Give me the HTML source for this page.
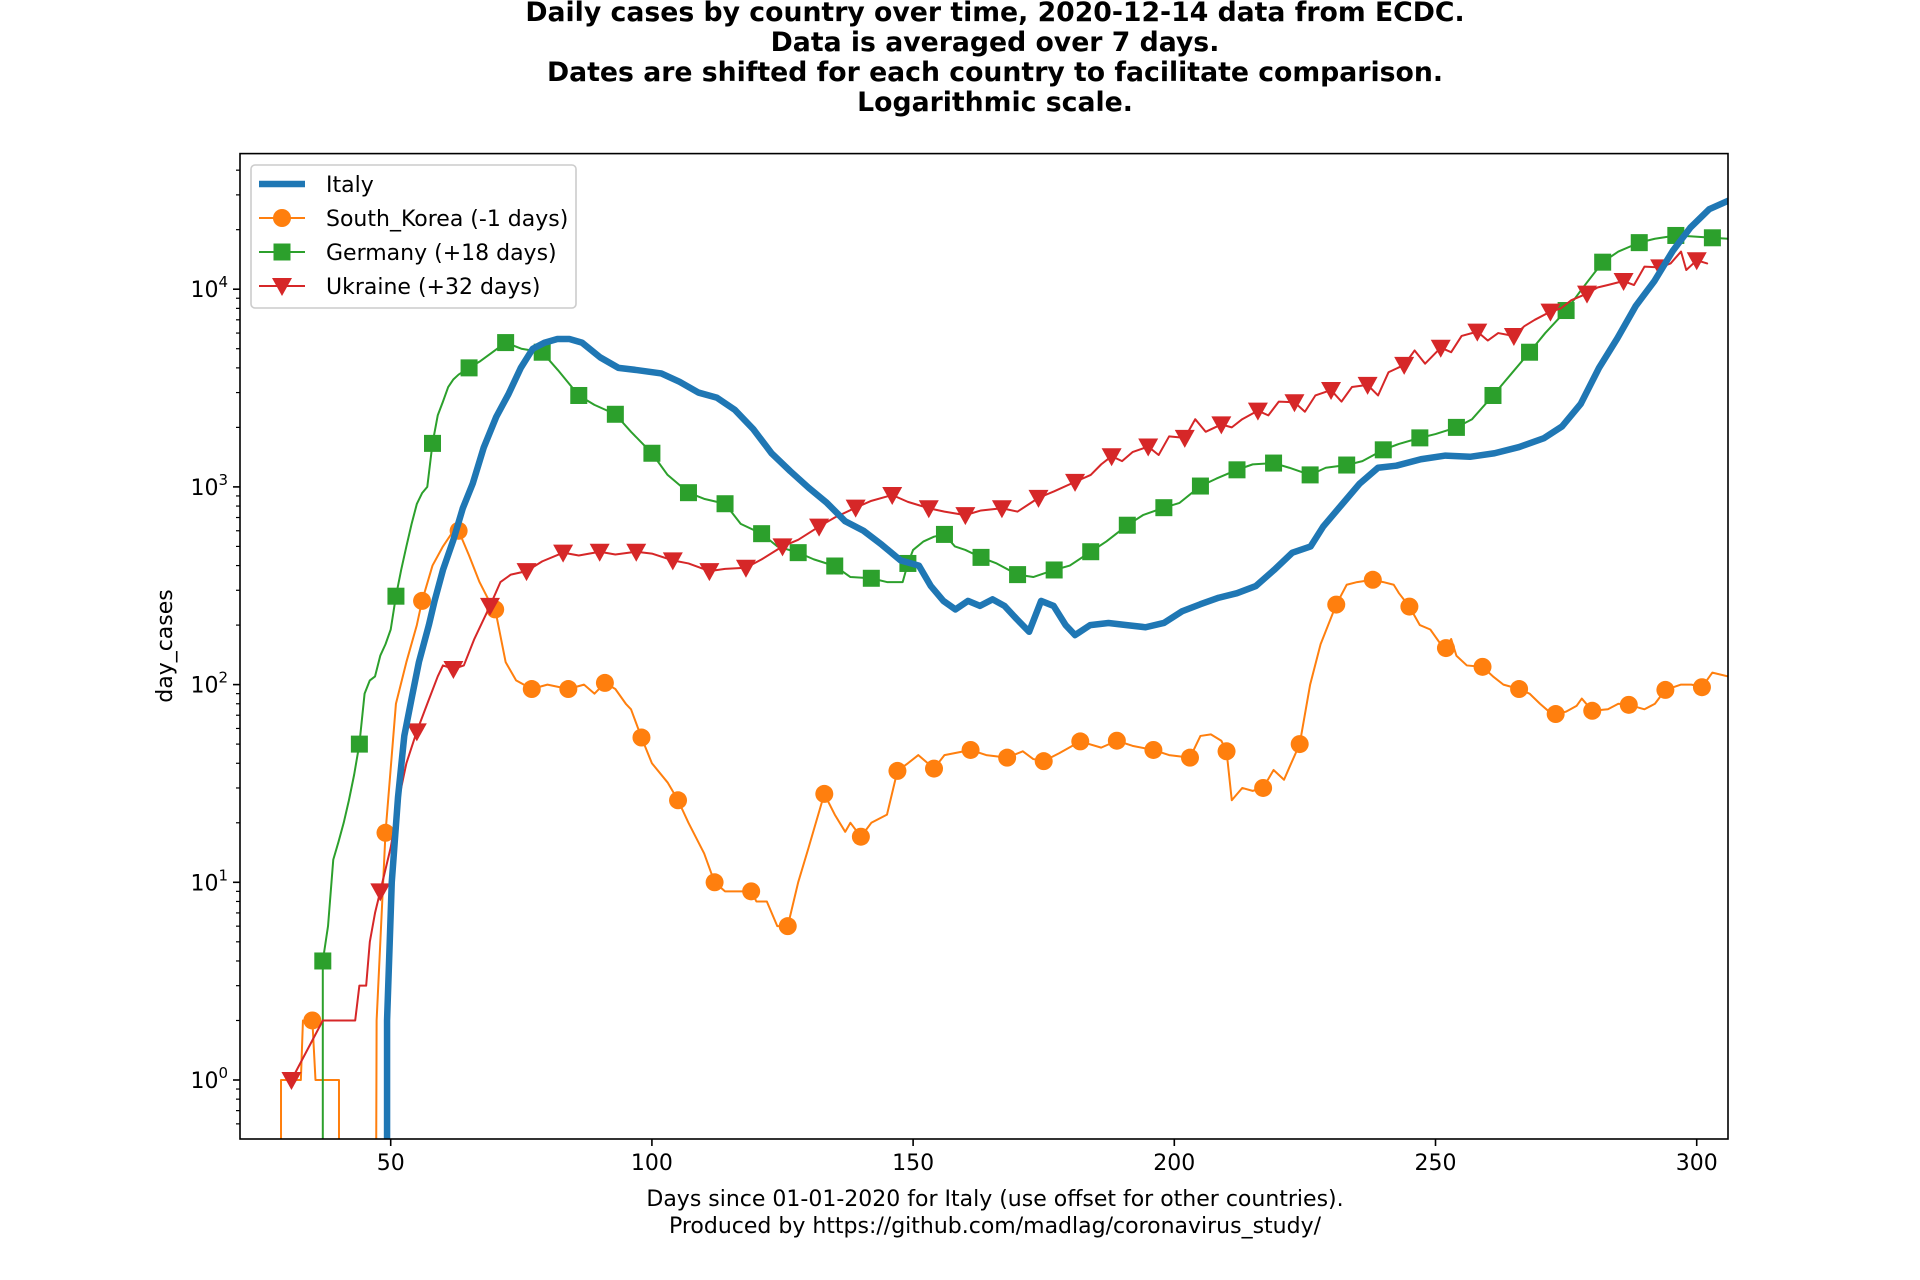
<!DOCTYPE html>
<html><head><meta charset="utf-8"><style>
html,body{margin:0;padding:0;background:#fff;}
svg{display:block;font-family:"DejaVu Sans","Liberation Sans",sans-serif;}
</style></head><body>
<svg id="chart" width="1920" height="1280" viewBox="0 0 1920 1280" xmlns="http://www.w3.org/2000/svg">
<rect width="1920" height="1280" fill="#fff"/>
<g font-weight="bold" font-size="26.7" text-anchor="middle" fill="#000">
<text x="995" y="21">Daily cases by country over time, 2020-12-14 data from ECDC.</text>
<text x="995" y="51">Data is averaged over 7 days.</text>
<text x="995" y="81">Dates are shifted for each country to facilitate comparison.</text>
<text x="995" y="111">Logarithmic scale.</text>
</g>
<defs><clipPath id="plotclip"><rect x="240" y="153.6" width="1488" height="985.4"/></clipPath></defs>
<g id="series" clip-path="url(#plotclip)"></g>
<g id="axes"></g>
<text transform="translate(172,646) rotate(-90)" font-size="22" text-anchor="middle">day_cases</text>
<g font-size="22" text-anchor="middle">
<text x="995" y="1206">Days since 01-01-2020 for Italy (use offset for other countries).</text>
<text x="995" y="1233">Produced by https://github.com/madlag/coronavirus_study/</text>
</g>
<g id="legend"></g>
</svg>
<script>
const xTicks=[50,100,150,200,250,300];
const yDecades=[0,1,2,3,4];
const itDays=[49.3,49.3,50.2,51.4,52.6,54,55.4,57.3,58.4,60,62,63.8,65.7,67.8,70.2,72.5,74.9,77.2,79.5,81.9,84.2,86.6,90.1,93.6,97.1,101.8,105.3,108.9,112.4,115.9,119.4,122.9,126.5,130,133.5,137,140.5,144,147.6,151.1,153.4,155.8,158.1,160.5,162.8,165.2,167.5,169.8,172.2,174.5,176.9,179.2,181,183.9,187.4,190.9,194.5,198,201.5,205,208.5,212,215.6,219.1,222.6,226.1,228.5,232,235.5,239,242.5,247.2,251.9,256.6,261.3,266,270.7,274.2,277.8,281.3,284.8,288.3,291.9,295.4,298.8,302.4,306];
const itVals=[0.3,2,10,27,55,85,130,200,265,380,540,780,1040,1580,2260,2930,4000,5000,5370,5600,5600,5370,4520,4000,3900,3750,3400,3000,2830,2450,1960,1480,1200,990,830,670,600,510,425,400,315,265,240,265,250,270,250,215,185,265,250,200,178,200,205,200,195,205,235,255,275,290,315,380,465,500,630,810,1040,1250,1280,1380,1440,1420,1480,1590,1760,2020,2630,4000,5640,8200,11000,15600,20500,25400,28000];
const skDays=[29,29,32.8,33.2,35,35.6,40.1,40.1,47.2,47.3,49,51,53,55,56,58,60,62,63,65,67,69,70,72,74,77,80,84,87,89,91,93,95,96,98,100,103,105,107,110,112,114,117,119,120,122,124,126,128,130,133,135,137,138,140,142,145,147,149,151,154,156,161,164,168,171,173,175,178,182,186,189,192,196,199,203,205,207,209,210,211,213,215,217,219,221,222,224,226,228,231,233,235,238,240,242,243,245,247,249,251,252,253,254,256,259,261,263,266,268,270,272,273,275,277,278,280,283,285,287,290,292,294,297,299,301,303,306];
const skVals=[0.3,1,1,2,2,1,1,0.3,0.3,2,17.8,80,130,200,265,400,500,600,600,450,330,260,240,130,105,95,100,95,100,90,102,95,80,75,54,40,32,26,20,14,10,9,9,9,8,8,6,6,10,15,28,22,18,20,17,20,22,36.6,40,44,37.6,44,46.7,44,42.7,46,42,41,45,51.6,48,52,49,46.7,44,42.7,55,56,52,46,26,30,29,30,37,33,38,50,100,160,254,320,330,339,330,320,290,248,200,190,160,153,170,140,125,123,110,100,95,90,80,72,71,73,78,85,73.7,75,80,79,75,80,94,100,100,97,115,110];
const deDays=[37,37,38,39,40,41,42,43,44,45,46,47,48,49,50,51,52,53,54,55,56,57,58,59,60,61,62,63,65,67,69,72,75,79,82,86,89,93,96,100,103,107,110,114,117,121,124,128,131,135,138,142,145,148,149,150,152,154,156,158,160,163,166,170,173,177,180,184,187,191,194,198,201,205,208,212,215,219,222,226,229,233,236,240,243,247,250,254,257,261,264,268,271,275,278,282,285,289,292,296,299,303,306];
const deVals=[0.3,4,6,13,16,20,26,35,50,90,105,110,140,160,190,280,380,500,650,820,930,1000,1660,2300,2700,3200,3500,3700,4000,4300,4700,5370,5000,4800,3900,2900,2600,2330,1900,1480,1150,935,870,822,650,580,500,465,430,398,350,345,330,330,410,480,530,560,575,500,480,440,410,360,350,380,400,470,530,640,720,785,830,1010,1100,1220,1300,1320,1250,1150,1250,1290,1350,1540,1650,1770,1850,2000,2200,2900,3600,4800,6000,7800,10000,13700,15500,17200,18000,18700,18500,18200,18000];
const uaDays=[31,37,40,43.2,44,45.3,46,47,48,50,52,53,55,57,59,60,62,64,66,69,71,73,76,79,83,86,90,93,97,100,104,107,111,114,118,121,125,128,132,135,139,142,146,149,153,156,160,163,167,170,174,177,181,184,186,188,190,192,195,197,199,202,204,206,209,211,213,216,218,220,223,225,227,230,232,234,237,239,241,244,246,248,251,253,255,258,260,262,265,267,269,272,274,276,279,281,283,286,288,290,293,295,297,298,300,302];
const uaVals=[1,2,2,2,3,3,5,7,9,15,30,40,58,80,110,125,120,125,170,250,330,360,375,420,465,450,470,455,470,460,425,410,375,385,390,430,500,540,630,700,785,850,910,840,780,750,720,760,780,750,880,950,1060,1150,1300,1430,1350,1500,1600,1450,1800,1770,2200,1900,2070,2000,2200,2430,2300,2700,2680,2400,2900,3090,2700,3200,3280,2900,3800,4140,4900,4200,5060,4800,5800,6100,5500,6000,5800,6500,7000,7700,8000,8800,9500,10200,10500,11000,10500,13000,12900,13500,15500,12500,14000,13500];
const uaExtraMarkDays=[31];
const legendLabels=["Italy","South_Korea (-1 days)","Germany (+18 days)","Ukraine (+32 days)"];

const NS="http://www.w3.org/2000/svg";
const L=240,R=1728,T=153.6,B=1139;
const xS=d=>L+(d-21.15)*5.224;
const yS=v=>1080-Math.log10(v)*197.7;
function mk(tag,attrs,parent){const e=document.createElementNS(NS,tag);for(const k in attrs)e.setAttribute(k,attrs[k]);parent.appendChild(e);return e;}
const sg=document.getElementById('series');
const ax=document.getElementById('axes');

function line(days,vals,color,w,name){
  const d=days.map((x,i)=>(i?'L':'M')+xS(x).toFixed(2)+','+yS(vals[i]).toFixed(2)).join('');
  const p=mk('path',{d:d,fill:'none',stroke:color,'stroke-width':w,'stroke-linejoin':'round','stroke-linecap':'round'},sg);
  
  
}
function marker(shape,cx,cy,color,parent){
  let e;
  if(shape==='o'){e=mk('circle',{cx:cx,cy:cy,r:9,fill:color},parent);}
  else if(shape==='s'){e=mk('rect',{x:cx-8.5,y:cy-8.5,width:17,height:17,fill:color},parent);}
  else{e=mk('path',{d:`M${cx-10},${cy-8}L${cx+10},${cy-8}L${cx},${cy+10}Z`,fill:color},parent);}
  return e;
}
function markers(days,vals,color,shape,test,name){
  const seen=new Set();
  for(let i=days.length-1;i>=0;i--){
    const d=days[i];
    if(Number.isInteger(d)&&test(d)&&!seen.has(d)){
      seen.add(d);
      const e=marker(shape,xS(d),yS(vals[i]),color,sg);
      
      
    }
  }
}
line(skDays,skVals,'#ff7f0e',2,'south-korea-line');
markers(skDays,skVals,'#ff7f0e','o',d=>d%7===0,'south-korea-marker');
line(deDays,deVals,'#2ca02c',2,'germany-line');
markers(deDays,deVals,'#2ca02c','s',d=>d%7===2,'germany-marker');
line(uaDays,uaVals,'#d62728',2,'ukraine-line');
markers(uaDays,uaVals,'#d62728','v',d=>d%7===6||uaExtraMarkDays.includes(d),'ukraine-marker');
line(itDays,itVals,'#1f77b4',6.5,'italy-line');

const fr=mk('rect',{x:L,y:T,width:R-L,height:B-T,fill:'none',stroke:'#000','stroke-width':1.6},ax);


xTicks.forEach(t=>{
  const x=xS(t);
  const tk=mk('line',{x1:x,x2:x,y1:B,y2:B+7,stroke:'#000','stroke-width':1.6},ax);
  
  
  const tx=mk('text',{x:x,y:B+31,'font-size':22,'text-anchor':'middle'},ax);
  tx.textContent=t;
  
  
});
for(let k=-1;k<=4;k++){
  for(let m=1;m<=9;m++){
    const v=m*Math.pow(10,k);const y=yS(v);
    if(y<T||y>B)continue;
    const len=m===1?7:4;
    const tk=mk('line',{x1:L-len,x2:L,y1:y,y2:y,stroke:'#000','stroke-width':m===1?1.6:1.2},ax);
    
    
  }
}
yDecades.forEach(k=>{
  const y=yS(Math.pow(10,k));
  const tx=mk('text',{x:L-12,y:y+8,'font-size':22,'text-anchor':'end'},ax);
  
  
  const a=document.createElementNS(NS,'tspan');a.textContent='10';tx.appendChild(a);
  const b=document.createElementNS(NS,'tspan');b.setAttribute('dy','-10');b.setAttribute('font-size','15');b.textContent=k;tx.appendChild(b);
});
const lg=document.getElementById('legend');
mk('rect',{x:251,y:165,width:325,height:143,rx:4,fill:'#fff','fill-opacity':0.85,stroke:'#cccccc','stroke-width':1.6},lg);
const lc=['#1f77b4','#ff7f0e','#2ca02c','#d62728'],ls=[null,'o','s','v'];
legendLabels.forEach((lab,i)=>{
  const y=184+i*34;
  const g=mk('g',{},lg);
  
  
  mk('line',{x1:259,x2:305,y1:y,y2:y,stroke:lc[i],'stroke-width':i===0?6.5:2},g);
  if(ls[i])marker(ls[i],282,y,lc[i],g);
  const t=mk('text',{x:326,y:y+8,'font-size':22},g);
  t.textContent=lab;
});
</script>
</body></html>
